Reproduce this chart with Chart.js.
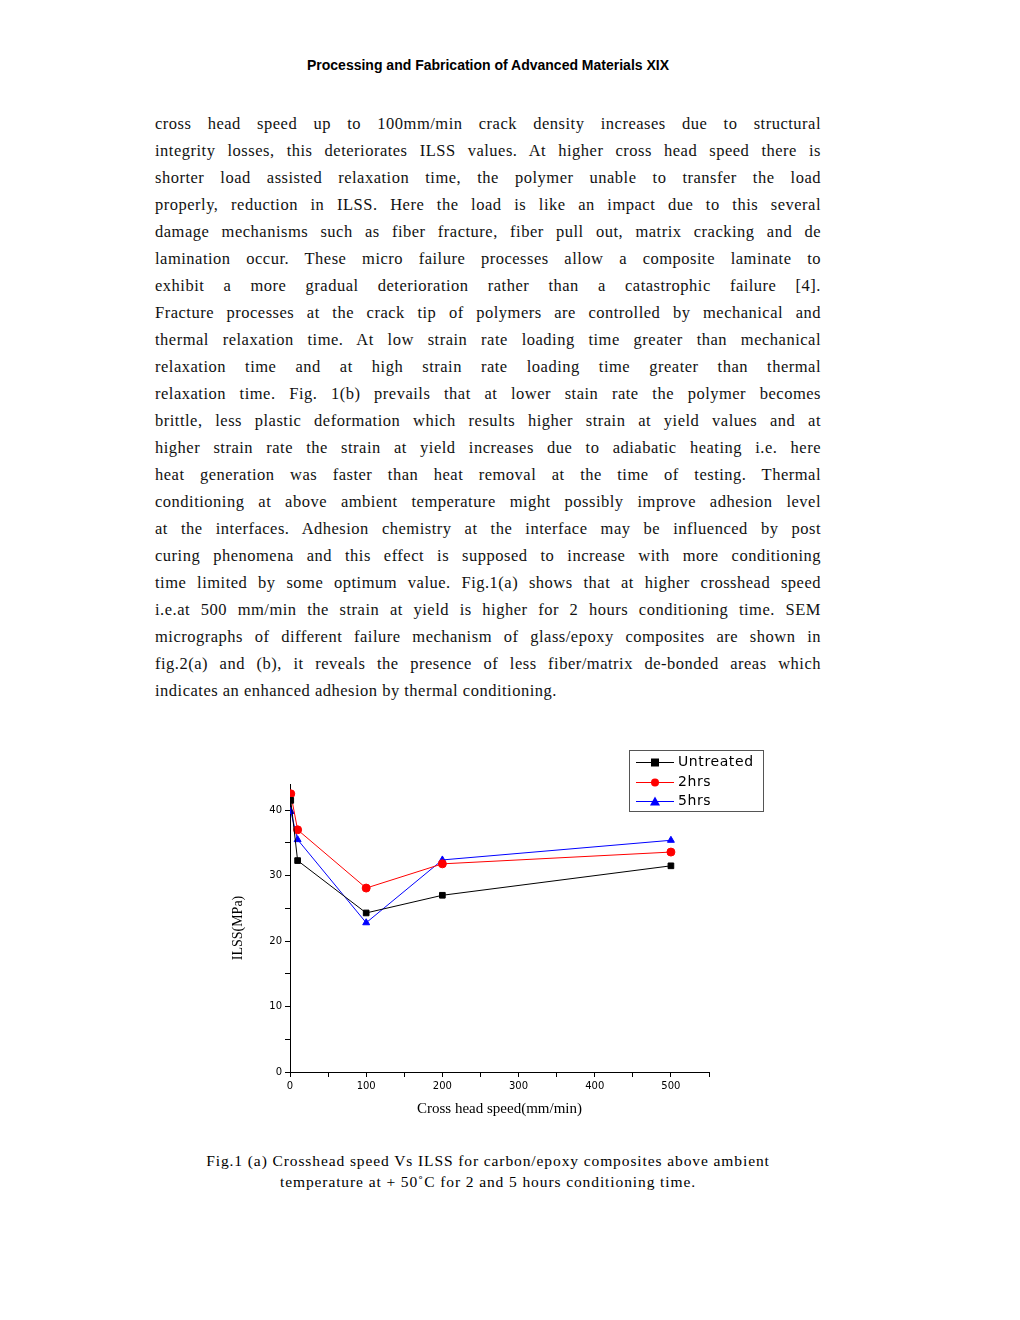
<!DOCTYPE html>
<html>
<head>
<meta charset="utf-8">
<script src="https://cdn.jsdelivr.net/npm/chart.js@4/dist/chart.umd.min.js"></script>
<style>
  body { margin: 0; background: #fff; width: 1020px; height: 1320px; position: relative; }
  .hdr { position: absolute; top: 57px; left: 0; width: 976px; text-align: center;
         font: bold 14px "Liberation Sans", Arial, sans-serif; }
  .para { position: absolute; top: 110px; left: 155px; width: 666px;
          font: 16.5px "Liberation Serif", serif; line-height: 27px; color: #111; letter-spacing: 0.5px; }
  .para div { text-align: justify; text-align-last: justify; white-space: nowrap; }
  .para div.last { text-align-last: left; }
  #wrap { position: absolute; left: 230px; top: 774px; width: 490px; height: 348px; }
  .legend { position: absolute; left: 629px; top: 750px; width: 133px; height: 60px;
            border: 1px solid #555; font: 14px "DejaVu Sans", sans-serif; }
  .legend div { height: 19.5px; line-height: 21px; padding-left: 48px; position: relative; letter-spacing: 0.6px; }
  .legend canvas { position: absolute; left: 6px; top: 3px; }
  .cap { position: absolute; top: 1150px; left: 0; width: 976px; text-align: center;
         font: 15.5px "Liberation Serif", serif; line-height: 21px; letter-spacing: 0.9px; }
</style>
</head>
<body>
<div class="hdr">Processing and Fabrication of Advanced Materials XIX</div>
<div class="para">
<div>cross head speed up to 100mm/min crack density increases due to structural</div>
<div>integrity losses, this deteriorates ILSS values. At higher cross head speed there is</div>
<div>shorter load assisted relaxation time, the polymer unable to transfer the load</div>
<div>properly, reduction in ILSS. Here the load is like an impact due to this several</div>
<div>damage mechanisms such as fiber fracture, fiber pull out, matrix cracking and de</div>
<div>lamination occur. These micro failure processes allow a composite laminate to</div>
<div>exhibit a more gradual deterioration rather than a catastrophic failure [4].</div>
<div>Fracture processes at the crack tip of polymers are controlled by mechanical and</div>
<div>thermal relaxation time. At low strain rate loading time greater than mechanical</div>
<div>relaxation time and at high strain rate loading time greater than thermal</div>
<div>relaxation time. Fig. 1(b) prevails that at lower stain rate the polymer becomes</div>
<div>brittle, less plastic deformation which results higher strain at yield values and at</div>
<div>higher strain rate the strain at yield increases due to adiabatic heating i.e. here</div>
<div>heat generation was faster than heat removal at the time of testing. Thermal</div>
<div>conditioning at above ambient temperature might possibly improve adhesion level</div>
<div>at the interfaces. Adhesion chemistry at the interface may be influenced by post</div>
<div>curing phenomena and this effect is supposed to increase with more conditioning</div>
<div>time limited by some optimum value. Fig.1(a) shows that at higher crosshead speed</div>
<div>i.e.at 500 mm/min the strain at yield is higher for 2 hours conditioning time. SEM</div>
<div>micrographs of different failure mechanism of glass/epoxy composites are shown in</div>
<div>fig.2(a) and (b), it reveals the presence of less fiber/matrix de-bonded areas which</div>
<div class="last">indicates an enhanced adhesion by thermal conditioning.</div>
</div>

<div id="wrap"><canvas id="ilssChart"></canvas></div>
<div class="legend" id="legend"></div>

<div class="cap">Fig.1 (a) Crosshead speed Vs ILSS for carbon/epoxy composites above ambient<br>temperature at + 50˚C for 2 and 5 hours conditioning time.</div>

<script>
// data
const speeds = [1, 10, 100, 200, 500];
const untreated = [41.5, 32.3, 24.3, 27.0, 31.5];
const hrs2 = [42.5, 37.0, 28.1, 31.8, 33.6];
const hrs5 = [39.8, 35.5, 22.8, 32.4, 35.4];

const series = [
    { label: 'Untreated', values: untreated, color: '#000000', style: 'rect' },
    { label: '2hrs', values: hrs2, color: '#ff0000', style: 'circle' },
    { label: '5hrs', values: hrs5, color: '#0000ff', style: 'triangle' }
];

function toPoints(vals) {
    return speeds.map((s, i) => ({ x: s, y: vals[i] }));
}

function createIlssChart() {
    const ctx = document.getElementById('ilssChart');
    const tickFont = { family: 'DejaVu Sans', size: 10 };
    new Chart(ctx, {
        type: 'line',
        data: {
            datasets: series.map(s => ({
                label: s.label,
                data: toPoints(s.values),
                borderColor: s.color,
                backgroundColor: s.color,
                borderWidth: 1,
                pointStyle: s.style,
                pointRadius: 4,
                tension: 0
            }))
        },
        options: {
            responsive: true,
            maintainAspectRatio: false,
            animation: false,
            layout: { padding: { top: 10, right: 11 } },
            plugins: { legend: { display: false }, tooltip: { enabled: false } },
            scales: {
                x: {
                    type: 'linear', min: 0, max: 550,
                    ticks: { stepSize: 50, color: '#000', font: tickFont, maxRotation: 0,
                             callback: v => v % 100 === 0 && v <= 500 ? v : '' },
                    grid: { drawOnChartArea: false, tickLength: 5, color: '#000' },
                    border: { color: '#000' },
                    title: { display: true, text: 'Cross head speed(mm/min)', color: '#000',
                             font: { family: 'Liberation Serif', size: 15 }, padding: { top: 4 } },
                    afterFit: a => { a.height = 50; }
                },
                y: {
                    min: 0, max: 44,
                    afterBuildTicks: a => { a.ticks = a.ticks.filter(t => t.value % 5 === 0); },
                    ticks: { stepSize: 5, color: '#000', font: tickFont,
                             callback: v => v % 10 === 0 ? v : '' },
                    grid: { drawOnChartArea: false, tickLength: 5, color: '#000' },
                    border: { color: '#000' },
                    title: { display: true, text: 'ILSS(MPa)', color: '#000',
                             font: { family: 'Liberation Serif', size: 14 }, padding: { top: 0, bottom: 14 } },
                    afterFit: a => { a.width = 60; }
                }
            }
        }
    });
}

function buildLegend() {
    const box = document.getElementById('legend');
    series.forEach(s => {
        const row = document.createElement('div');
        const c = document.createElement('canvas');
        c.width = 38; c.height = 16;
        const g = c.getContext('2d');
        g.strokeStyle = s.color; g.fillStyle = s.color; g.lineWidth = 1;
        g.beginPath(); g.moveTo(0, 8.5); g.lineTo(38, 8.5); g.stroke();
        g.beginPath();
        if (s.style === 'rect') g.rect(15, 4.5, 8, 8);
        else if (s.style === 'circle') g.arc(19, 8.5, 4, 0, Math.PI * 2);
        else { g.moveTo(19, 3.5); g.lineTo(24, 12.5); g.lineTo(14, 12.5); g.closePath(); }
        g.fill();
        row.appendChild(c);
        row.appendChild(document.createTextNode(s.label));
        box.appendChild(row);
    });
}

document.addEventListener('DOMContentLoaded', () => {
    createIlssChart();
    buildLegend();
});
</script>
</body>
</html>
